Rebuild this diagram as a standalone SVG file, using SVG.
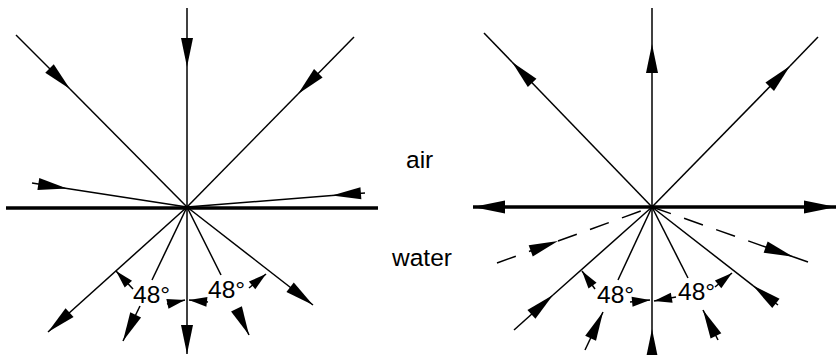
<svg xmlns="http://www.w3.org/2000/svg" width="837" height="355" viewBox="0 0 837 355">
<style>
.ln{stroke:#000;stroke-width:1.5;fill:none}
.thick{stroke:#000;stroke-width:3.5;fill:none}
.dash{stroke:#000;stroke-width:1.5;fill:none;stroke-dasharray:20 14}
.a{marker-end:url(#a)}
.ab{marker-end:url(#ab)}
.s{marker-end:url(#s)}
text{font-family:"Liberation Sans",Arial,Helvetica,sans-serif;font-size:24.5px;fill:#000}
</style>
<defs>
<marker id="a" markerUnits="userSpaceOnUse" viewBox="-31 -8 33 16" refX="0" refY="0" markerWidth="33" markerHeight="16" orient="auto" overflow="visible">
<path d="M0,0 L-29,-6 L-29,6 Z" fill="#000"/>
</marker>
<marker id="ab" markerUnits="userSpaceOnUse" viewBox="-34 -8 36 16" refX="0" refY="0" markerWidth="36" markerHeight="16" orient="auto" overflow="visible">
<path d="M0,0 L-32,-6.5 L-32,6.5 Z" fill="#000"/>
</marker>
<marker id="s" markerUnits="userSpaceOnUse" viewBox="-20 -6 22 12" refX="0" refY="0" markerWidth="22" markerHeight="12" orient="auto" overflow="visible">
<path d="M0,0 L-18,-5 L-18,5 Z" fill="#000"/>
</marker>
</defs>
<g id="connectors">
<g id="left-diagram">
<line class="thick" x1="6" y1="208" x2="378" y2="208"/>
<line class="ln a" x1="187" y1="8" x2="187" y2="67"/>
<line class="ln" x1="187" y1="67" x2="187" y2="207"/>
<line class="ln a" x1="187" y1="207" x2="187" y2="354"/>
<line class="ln a" x1="16" y1="35" x2="70" y2="89"/>
<line class="ln" x1="70" y1="89" x2="187" y2="207"/>
<line class="ln a" x1="354" y1="37" x2="298" y2="94"/>
<line class="ln" x1="298" y1="94" x2="187" y2="207"/>
<line class="ln a" x1="32" y1="183" x2="67" y2="188.4"/>
<line class="ln" x1="67" y1="188.4" x2="187" y2="207"/>
<line class="ln a" x1="365" y1="193" x2="332" y2="195.6"/>
<line class="ln" x1="332" y1="195.6" x2="187" y2="207"/>
<line class="ln a" x1="187" y1="207" x2="48" y2="332"/>
<line class="ln a" x1="187" y1="207" x2="313" y2="305"/>
<line class="ln" x1="187" y1="207" x2="152" y2="280"/>
<line class="ln" x1="187" y1="207" x2="221" y2="275"/>
<line class="ln a" x1="140" y1="306" x2="123" y2="341"/>
<line class="ln a" x1="237" y1="310" x2="249" y2="335"/>
<line class="ln s" x1="133" y1="289" x2="116" y2="271"/>
<line class="ln s" x1="167" y1="304" x2="185" y2="300"/>
<line class="ln s" x1="208" y1="302" x2="189" y2="300"/>
<line class="ln s" x1="249" y1="288" x2="266" y2="274"/>
</g>
<g id="right-diagram">
<line class="thick ab" x1="652" y1="207" x2="473" y2="207"/>
<line class="thick ab" x1="652" y1="207" x2="836" y2="207"/>
<line class="ln a" x1="652" y1="207" x2="652" y2="44"/>
<line class="ln" x1="652" y1="44" x2="652" y2="8"/>
<line class="ln a" x1="652" y1="357" x2="652" y2="329"/>
<line class="ln" x1="652" y1="329" x2="652" y2="207"/>
<line class="ln a" x1="652" y1="207" x2="512" y2="62"/>
<line class="ln" x1="512" y1="62" x2="484" y2="33"/>
<line class="ln a" x1="652" y1="207" x2="790" y2="66"/>
<line class="ln" x1="790" y1="66" x2="818" y2="37"/>
<line class="dash a" x1="497" y1="263" x2="558" y2="241"/>
<line class="dash" x1="558" y1="241" x2="652" y2="207"/>
<line class="dash a" x1="652" y1="207" x2="793" y2="256.7"/>
<line class="ln" x1="793" y1="256.7" x2="808" y2="262"/>
<line class="ln a" x1="514" y1="330" x2="553" y2="295"/>
<line class="ln" x1="553" y1="295" x2="652" y2="207"/>
<line class="ln a" x1="778" y1="305" x2="753" y2="285.6"/>
<line class="ln" x1="753" y1="285.6" x2="652" y2="207"/>
<line class="ln" x1="652" y1="207" x2="618" y2="280"/>
<line class="ln" x1="652" y1="207" x2="688" y2="278"/>
<line class="ln a" x1="585" y1="350" x2="603" y2="312"/>
<line class="ln a" x1="718" y1="340" x2="703" y2="310"/>
<line class="ln s" x1="595" y1="289" x2="582" y2="271"/>
<line class="ln s" x1="630" y1="302" x2="650" y2="300"/>
<line class="ln s" x1="676" y1="297" x2="654" y2="301"/>
<line class="ln s" x1="715" y1="287" x2="732" y2="273"/>
</g>
</g>
<g id="labels">
<text x="133" y="303">48°</text>
<text x="208" y="298">48°</text>
<text x="597" y="303">48°</text>
<text x="678" y="300">48°</text>
<text x="406" y="168">air</text>
<text x="392" y="266">water</text>
</g>
</svg>
